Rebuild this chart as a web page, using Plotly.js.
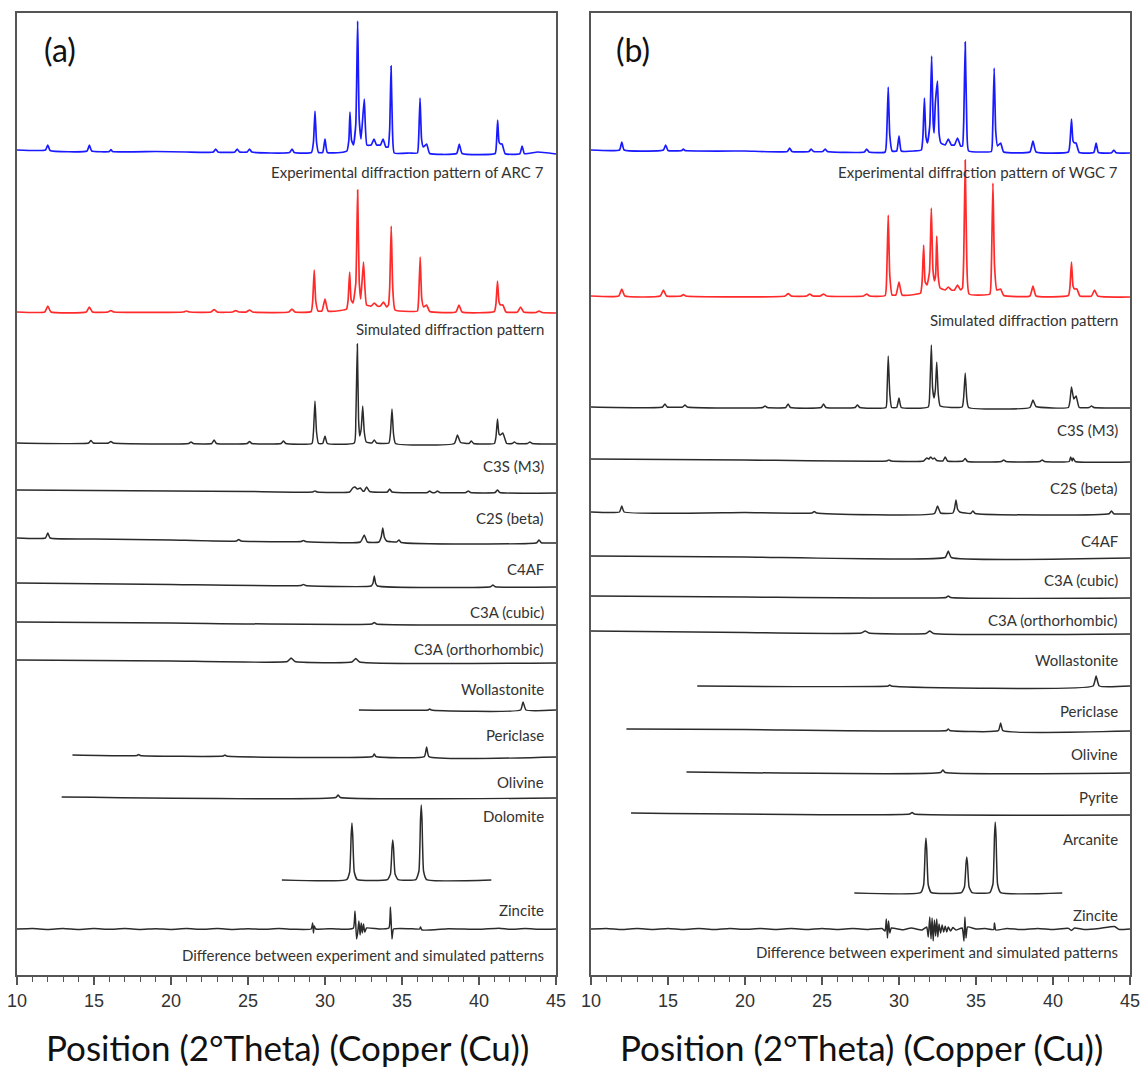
<!DOCTYPE html>
<html>
<head>
<meta charset="utf-8">
<script src="https://cdn.plot.ly/plotly-3.0.1.min.js"></script>
<style>html,body{margin:0;padding:0;background:#fff;}#chart{width:1142px;height:1069px;}</style>
</head>
<body>
<div id="chart"></div>
<script>
// ---------- Panel (a): ARC 7 — [2θ, relative intensity] ----------
const a_exp = [[10,4],[11.85,4],[12.0,9],[12.15,3.5],[14.55,3],[14.7,9],[14.85,3],[16.0,2.5],[16.1,4.5],[16.2,2.5],[19,2.5],[21,2],[22.75,2],[22.9,5],[23.05,2],[24.15,2],[24.3,5],[24.45,2],[24.95,2],[25.1,5],[25.25,2],[27.7,1.5],[27.86,5],[28.0,1.5],[29.12,1.5],[29.25,12],[29.35,43],[29.45,12],[29.58,1.5],[29.85,1.5],[30.0,15],[30.15,1.5],[31.0,1.5],[31.42,3],[31.55,14],[31.62,42],[31.72,14],[31.85,9],[32.0,30],[32.12,133],[32.22,35],[32.34,15],[32.55,55],[32.72,9],[33.0,9],[33.18,15],[33.35,9],[33.6,9],[33.77,15],[33.95,7],[34.1,7],[34.2,25],[34.29,88],[34.38,25],[34.5,1],[35.5,1],[36.0,1],[36.08,15],[36.17,56],[36.27,15],[36.38,7],[36.6,10],[36.8,0.5],[38.55,0.5],[38.72,10],[38.9,0.5],[41.05,0.5],[41.13,10],[41.21,34],[41.3,12],[41.4,10],[41.5,10],[41.7,0.3],[42.65,0.3],[42.8,8],[42.95,0.3],[43.8,2],[45,0]];
const a_sim = [[10,1],[11.8,1],[12.0,7],[12.2,1],[14.5,1],[14.7,6],[14.9,1],[15.9,1],[16.1,2.5],[16.3,1],[20.8,1],[21.0,2],[21.2,1],[22.6,1],[22.8,3.5],[23.0,1],[24.0,1],[24.2,2.5],[24.4,1],[24.9,1],[25.1,3],[25.3,1],[27.65,1],[27.85,4],[28.05,1],[29.1,1.5],[29.2,12],[29.3,43],[29.4,12],[29.55,2],[29.8,2],[30.0,14],[30.2,2],[31.0,2.5],[31.4,4],[31.5,13],[31.6,41],[31.7,13],[31.82,10],[32.0,30],[32.12,123],[32.22,32],[32.32,14],[32.5,51],[32.7,8],[33.0,7],[33.2,10],[33.4,7],[33.6,7],[33.8,11],[34.0,6],[34.12,8],[34.2,25],[34.3,87],[34.4,25],[34.55,3],[35.5,1.5],[36.0,2],[36.08,15],[36.18,56],[36.28,15],[36.4,6],[36.6,8],[36.8,1.5],[38.5,1],[38.7,8],[38.9,1],[41.0,1.5],[41.1,9],[41.2,32],[41.3,11],[41.4,8],[41.55,8],[41.75,1],[42.5,1],[42.7,6],[42.9,1],[43.7,0.5],[43.9,2],[44.1,0.5],[45,0]];
const a_c3s = [[10,1],[14.65,1],[14.8,3.5],[14.95,1],[15.95,1],[16.1,2.5],[16.25,1],[21.15,0.5],[21.3,2],[21.45,0.5],[22.65,0.5],[22.8,4],[22.95,0.5],[24.95,0.5],[25.1,2.5],[25.25,0.5],[27.15,0.5],[27.3,3],[27.45,0.5],[29.15,0.5],[29.25,12],[29.35,43],[29.45,12],[29.58,0.5],[29.85,0.5],[30.0,8],[30.15,0.5],[31.9,1],[32.0,25],[32.1,100],[32.18,25],[32.25,8],[32.35,15],[32.45,38],[32.55,12],[32.68,2],[33.05,1],[33.2,4],[33.35,1],[34.15,1],[34.25,11],[34.35,35],[34.45,10],[34.58,0.5],[38.4,0.5],[38.6,9],[38.8,1.5],[39.35,0.5],[39.5,3],[39.65,0.5],[41.0,0.5],[41.1,7],[41.2,25],[41.3,10],[41.4,9],[41.55,11],[41.8,0.5],[42.15,0.5],[42.3,2],[42.45,0.5],[43.15,0.5],[43.3,2],[43.45,0.5],[45,0]];
const a_c2s = [[10,3],[15,2.5],[20,2],[25,1.5],[29.2,1],[29.35,2],[29.5,1],[31.6,1],[31.8,5],[31.95,6],[32.1,4],[32.3,5],[32.45,2],[32.55,2],[32.7,6],[32.9,1.5],[34.05,1],[34.2,4],[34.35,1],[36.65,0.5],[36.8,2],[36.95,0.5],[37.15,0.5],[37.3,2],[37.45,0.5],[39.15,0.5],[39.3,2],[39.45,0.5],[41.05,0.5],[41.2,3],[41.35,0.5],[45,0]];
const a_c4af = [[10,5],[11.85,5],[12.0,10],[12.15,5],[15,4],[20,3],[24.25,2],[24.4,3.5],[24.55,2],[28.45,1.5],[28.6,2.5],[28.75,1.5],[32.3,1],[32.55,8],[32.75,1],[33.5,1],[33.65,6],[33.75,15],[33.85,6],[34.0,2],[34.65,1],[34.8,3],[34.95,0.5],[43.75,0.3],[43.9,3],[44.05,0.3],[45,0]];
const a_c3a_cub = [[10,4],[20,2.5],[28.45,1.5],[28.6,2.5],[28.75,1.5],[33.0,1],[33.12,4],[33.2,11],[33.28,4],[33.4,1],[40.75,0.3],[40.9,2],[41.05,0.3],[45,0]];
const a_c3a_orth = [[10,3],[20,2],[33.05,1],[33.2,2.5],[33.35,1],[45,0]];
const a_woll = [[10,3],[20,2],[27.55,1.5],[27.8,5],[28.05,1.5],[31.75,1],[32.0,4.5],[32.25,1],[45,0]];
const a_peri = [[32.2,0],[36.7,0],[36.8,1],[36.9,0],[42.7,0],[42.86,8],[43.05,0],[45,0]];
const a_oliv = [[13.6,2],[17.8,1.5],[17.9,2.5],[18.0,1.5],[23.4,1],[23.5,2],[23.6,1],[33.1,0.5],[33.2,3],[33.3,0.5],[36.45,0.3],[36.6,10],[36.75,0.3],[45,0]];
const a_dolo = [[12.9,1],[30.7,0.5],[30.85,3],[31.0,0.5],[45,0]];
const a_zinc = [[27.2,0],[31.4,0.3],[31.6,8],[31.7,45],[31.75,57],[31.8,45],[31.9,8],[32.1,0.3],[34.05,0.3],[34.25,6],[34.35,32],[34.4,40],[34.45,32],[34.55,6],[34.75,0.3],[35.9,0.3],[36.1,9],[36.2,60],[36.25,75],[36.3,60],[36.4,9],[36.6,0.3],[40.8,0]];
const a_diff = [[10,0],[11,0.5],[12,-0.4],[13,0.5],[14,-0.5],[15,0.4],[16,-0.3],[17,0.5],[18,-0.4],[19,0.3],[20,-0.4],[21,0.4],[22,-0.3],[23,0.5],[24,-0.4],[25,0.3],[26,-0.3],[27,0.4],[28,-0.3],[29.1,0],[29.2,6],[29.25,-4],[29.3,3],[29.4,0],[30.5,0.3],[31.5,-0.3],[31.85,1],[31.95,18],[32.05,-10],[32.12,-4],[32.2,8],[32.28,-6],[32.35,6],[32.42,-4],[32.5,5],[32.58,-3],[32.7,1],[33.5,0],[34.15,1],[34.25,22],[34.35,-10],[34.45,0],[35.5,0.3],[36.15,0],[36.2,2],[36.3,-1],[38,0.3],[40,-0.3],[41.3,0.8],[42,-0.3],[43,0.5],[44,-0.3],[45,0]];

const seriesA = [a_exp, a_sim, a_c3s, a_c2s, a_c4af, a_c3a_cub, a_c3a_orth, a_woll, a_peri, a_oliv, a_dolo, a_zinc, a_diff];
const labelsA = ["Experimental diffraction pattern of ARC 7", "Simulated diffraction pattern", "C3S (M3)", "C2S (beta)", "C4AF", "C3A (cubic)", "C3A (orthorhombic)", "Wollastonite", "Periclase", "Olivine", "Dolomite", "Zincite", "Difference between experiment and simulated patterns"];

// ---------- Panel (b): WGC 7 ----------
const b_exp = [[10,3],[11.85,3],[12.0,11],[12.15,3],[14.7,3],[14.85,8],[15.0,2.5],[15.9,2.5],[16.0,4],[16.1,2.5],[20,2],[22.75,1.5],[22.9,5],[23.05,1.5],[24.15,1.5],[24.3,4],[24.45,1.5],[25.05,1.5],[25.2,4],[25.35,1.5],[27.75,1],[27.9,4],[28.05,1],[29.1,1],[29.2,18],[29.3,66],[29.4,18],[29.55,2],[29.85,2],[30.0,17],[30.15,2],[31.0,2],[31.45,3],[31.55,16],[31.65,55],[31.75,16],[31.85,10],[32.0,28],[32.12,97],[32.22,30],[32.28,20],[32.36,50],[32.5,72],[32.6,20],[32.72,10],[33.0,8],[33.2,14],[33.4,8],[33.6,8],[33.8,15],[34.0,7],[34.12,7],[34.2,30],[34.3,111],[34.4,30],[34.52,2],[35.5,1],[36.0,1.5],[36.08,22],[36.18,85],[36.28,22],[36.4,7],[36.6,10],[36.8,1],[38.5,1],[38.7,12],[38.9,1],[41.0,1],[41.1,10],[41.2,34],[41.3,12],[41.4,10],[41.5,10],[41.7,0.5],[42.65,0.5],[42.8,10],[42.95,0.5],[43.8,0.3],[43.95,3],[44.1,0.3],[45,0]];
const b_sim = [[10,1],[11.8,1],[12.0,8],[12.2,1],[14.5,1],[14.7,7],[14.9,1],[15.85,1],[16.0,2.5],[16.15,1],[22.6,1],[22.8,3.5],[23.0,1],[24.0,1],[24.2,3],[24.4,1],[24.9,1],[25.1,3],[25.3,1],[27.7,1],[27.9,3],[28.1,1],[29.1,1.5],[29.2,22],[29.3,82],[29.4,22],[29.55,2],[29.8,2],[30.0,15],[30.2,2],[31.0,2.5],[31.4,4],[31.5,15],[31.6,52],[31.7,15],[31.82,12],[31.98,25],[32.1,89],[32.2,28],[32.3,16],[32.38,22],[32.45,61],[32.55,20],[32.67,9],[33.0,7],[33.2,10],[33.4,7],[33.6,7],[33.8,12],[34.0,7],[34.12,9],[34.2,38],[34.3,137],[34.4,38],[34.55,3],[35.5,2],[35.9,3],[36.0,32],[36.1,114],[36.2,32],[36.35,7],[36.6,8],[36.8,1.5],[38.5,1],[38.7,11],[38.9,1],[41.0,1.5],[41.1,10],[41.2,35],[41.3,11],[41.4,8],[41.55,8],[41.75,1],[42.5,1],[42.7,7],[42.9,1],[45,0]];
const b_c3s = [[10,1],[14.65,1],[14.8,4],[14.95,1],[15.95,1],[16.1,3],[16.25,1],[21.15,0.5],[21.3,2],[21.45,0.5],[22.65,0.5],[22.8,4],[22.95,0.5],[24.95,0.5],[25.1,4],[25.25,0.5],[27.15,0.5],[27.3,3],[27.45,0.5],[29.15,0.5],[29.22,15],[29.3,52],[29.4,15],[29.52,0.5],[29.85,0.5],[30.0,10],[30.15,0.5],[31.9,1],[32.0,18],[32.1,63],[32.18,20],[32.27,10],[32.36,18],[32.45,46],[32.55,14],[32.68,2],[34.1,1],[34.2,11],[34.3,35],[34.4,10],[34.52,0.5],[38.5,0.5],[38.7,8],[38.9,1.5],[41.0,0.5],[41.1,7],[41.2,21],[41.35,9],[41.5,12],[41.7,0.5],[42.35,0.5],[42.5,2],[42.65,0.5],[45,0]];
const b_c2s = [[10,3],[20,2],[29.2,1],[29.35,2],[29.5,1],[31.6,1],[31.8,4],[31.95,3],[32.05,5],[32.2,3],[32.3,4],[32.45,1.5],[32.85,1],[33.0,5],[33.15,1],[34.15,1],[34.3,3.5],[34.45,0.5],[36.65,0.5],[36.8,2],[36.95,0.5],[39.15,0.5],[39.3,2],[39.45,0.5],[41.05,0.5],[41.15,5],[41.25,1],[41.3,4],[41.45,0.5],[45,0]];
const b_c4af = [[10,2],[11.85,2],[12.0,8],[12.15,2],[20,1.5],[24.35,1],[24.5,2.5],[24.65,1],[32.3,0.5],[32.5,8],[32.7,1],[33.5,1],[33.6,5],[33.7,14],[33.8,5],[33.95,2],[34.65,0.5],[34.8,3],[34.95,0.5],[43.65,0.3],[43.8,3],[43.95,0.3],[45,0]];
const b_c3a_cub = [[10,2],[20,1],[33.0,0.5],[33.2,7],[33.4,0.5],[45,0]];
const b_c3a_orth = [[10,2],[20,1],[33.05,0.5],[33.2,2],[33.35,0.5],[45,0]];
const b_woll = [[10,3],[20,1.5],[27.55,1],[27.8,3],[28.05,1],[31.75,0.5],[32.0,3],[32.25,0.5],[45,0]];
const b_peri = [[16.9,0],[29.3,0],[29.4,1],[29.5,0],[42.6,0],[42.8,10],[43.0,0],[45,0]];
const b_oliv = [[12.3,2],[20,1.5],[33.1,0.5],[33.2,2],[33.3,0.5],[36.45,0.3],[36.6,8],[36.75,0.3],[45,0]];
const b_pyri = [[16.2,1],[32.7,0.5],[32.85,3],[33.0,0.5],[45,0]];
const b_arca = [[12.6,2],[30.7,1],[30.85,2.5],[31.0,1],[45,0]];
const b_zinc = [[27.1,0],[31.4,0.3],[31.6,8],[31.7,44],[31.75,55],[31.8,44],[31.9,8],[32.1,0.3],[34.05,0.3],[34.25,6],[34.35,29],[34.4,36],[34.45,29],[34.55,6],[34.75,0.3],[35.9,0.3],[36.1,9],[36.2,57],[36.25,71],[36.3,57],[36.4,9],[36.6,0.3],[40.6,0]];
const b_diff = [[10,0],[11,0.6],[12,-0.5],[13,0.5],[14,-0.4],[15,0.6],[16,-0.5],[17,0.4],[18,-0.6],[19,0.5],[20,-0.3],[21,0.5],[22,-0.5],[23,0.4],[24,-0.5],[25,0.6],[26,-0.4],[27,0.5],[28,-0.4],[28.9,0.5],[29.1,-2],[29.18,10],[29.25,-9],[29.32,8],[29.4,-4],[29.5,1],[30.2,-0.8],[30.8,1],[31.5,-1],[31.8,2],[31.9,-8],[32.0,12],[32.08,-10],[32.15,11],[32.22,-12],[32.3,9],[32.38,-7],[32.45,10],[32.52,-8],[32.6,5],[32.7,-4],[32.8,4],[32.9,-3],[33.0,3],[33.1,-3],[33.2,2],[33.35,-2],[33.5,1.5],[33.7,-1],[34.1,1],[34.22,-12],[34.28,12],[34.35,-9],[34.45,2],[35,0],[35.6,0.5],[36.15,-0.5],[36.2,6],[36.28,-1],[37,0.5],[38,-0.6],[39,0.6],[40,-0.5],[41,0.6],[41.2,-1.5],[41.4,1],[42,-0.5],[43,0.5],[44,2.5],[44.3,-0.5],[45,0]];

const seriesB = [b_exp, b_sim, b_c3s, b_c2s, b_c4af, b_c3a_cub, b_c3a_orth, b_woll, b_peri, b_oliv, b_pyri, b_arca, b_zinc, b_diff];
const labelsB = ["Experimental diffraction pattern of WGC 7", "Simulated diffraction pattern", "C3S (M3)", "C2S (beta)", "C4AF", "C3A (cubic)", "C3A (orthorhombic)", "Wollastonite", "Periclase", "Olivine", "Pyrite", "Arcanite", "Zincite", "Difference between experiment and simulated patterns"];

const xTickVals = [10, 15, 20, 25, 30, 35, 40, 45];
const xTitle = "Position (2°Theta) (Copper (Cu))";

// ---------- layout / stacking (pixel rows of the figure) ----------
const PLOT_BOTTOM = 975, PLOT_TOP = 13;
const baseRowsA = [154, 313, 444, 493, 543, 587, 625, 663, 710, 757, 798, 880, 929];
const labelRowsA = [172, 329, 466, 518, 569, 612, 649, 689, 735, 782, 816, 910, 955];
const baseRowsB = [153, 297, 408, 462, 514, 558, 598, 634, 686, 731, 773, 815, 893, 929];
const labelRowsB = [172, 320, 430, 488, 541, 580, 620, 660, 711, 754, 797, 839, 915, 952];

function colorFor(i) { return i === 0 ? '#1a1aff' : (i === 1 ? '#ff2a2a' : '#2b2b2b'); }

const traces = [];
const annotations = [];
function build(series, baseRows, labels, labelRows, xa, ya) {
  series.forEach((pts, i) => {
    const off = PLOT_BOTTOM - baseRows[i];
    traces.push({
      type: 'scatter', mode: 'lines', xaxis: xa, yaxis: ya,
      x: pts.map(p => p[0]), y: pts.map(p => p[1] + off),
      line: { color: colorFor(i), width: i < 2 ? 1.7 : 1.5, shape: 'spline', smoothing: 0.4 },
      hoverinfo: 'skip', showlegend: false
    });
    annotations.push({
      xref: xa, yref: ya, x: 44.35, y: PLOT_BOTTOM - labelRows[i],
      xanchor: 'right', yanchor: 'middle', showarrow: false,
      text: labels[i], font: { family: 'Lato, "Open Sans", sans-serif', size: 15, color: '#333' }
    });
  });
}
build(seriesA, baseRowsA, labelsA, labelRowsA, 'x', 'y');
build(seriesB, baseRowsB, labelsB, labelRowsB, 'x2', 'y2');

const W = 1142, H = 1069;
const yDom = [(H - PLOT_BOTTOM) / H, (H - PLOT_TOP) / H];
const axisX = (dom) => ({
  domain: dom, range: [10, 45], tickvals: xTickVals, ticktext: xTickVals.map(String),
  ticks: 'outside', ticklen: 8, tickwidth: 1.5, tickcolor: '#555',
  minor: { dtick: 1, tick0: 10, ticks: 'outside', ticklen: 5, tickwidth: 1.2, tickcolor: '#555', showgrid: false },
  showline: true, mirror: true, linecolor: '#555', linewidth: 2,
  showgrid: false, zeroline: false, fixedrange: true,
  tickfont: { family: '"Liberation Sans", Arial, sans-serif', size: 18, color: '#333' }
});
const axisY = (anchor) => ({
  domain: yDom, range: [0, PLOT_BOTTOM - PLOT_TOP], anchor: anchor,
  showticklabels: false, ticks: '', showgrid: false, zeroline: false,
  showline: true, mirror: true, linecolor: '#555', linewidth: 2, fixedrange: true
});

annotations.push(
  { xref: 'paper', yref: 'paper', x: 60 / W, y: 1 - 49 / H, xanchor: 'center', yanchor: 'middle', showarrow: false, text: '(a)', font: { family: 'Lato, "Open Sans", sans-serif', size: 32, color: '#111' } },
  { xref: 'paper', yref: 'paper', x: 633 / W, y: 1 - 49 / H, xanchor: 'center', yanchor: 'middle', showarrow: false, text: '(b)', font: { family: 'Lato, "Open Sans", sans-serif', size: 32, color: '#111' } },
  { xref: 'paper', yref: 'paper', x: 287 / W, y: 1 - 1047 / H, xanchor: 'center', yanchor: 'middle', showarrow: false, text: xTitle, font: { family: 'Lato, "Open Sans", sans-serif', size: 35, color: '#111' } },
  { xref: 'paper', yref: 'paper', x: 861 / W, y: 1 - 1047 / H, xanchor: 'center', yanchor: 'middle', showarrow: false, text: xTitle, font: { family: 'Lato, "Open Sans", sans-serif', size: 35, color: '#111' } }
);

const layout = {
  width: W, height: H, margin: { l: 0, r: 0, t: 0, b: 0 },
  paper_bgcolor: '#fff', plot_bgcolor: '#fff', showlegend: false,
  xaxis: Object.assign(axisX([17 / W, 556 / W]), { anchor: 'y' }),
  yaxis: axisY('x'),
  xaxis2: Object.assign(axisX([591 / W, 1130 / W]), { anchor: 'y2' }),
  yaxis2: axisY('x2'),
  annotations: annotations
};

Plotly.newPlot('chart', traces, layout, { displayModeBar: false, staticPlot: true });
</script>
</body>
</html>
